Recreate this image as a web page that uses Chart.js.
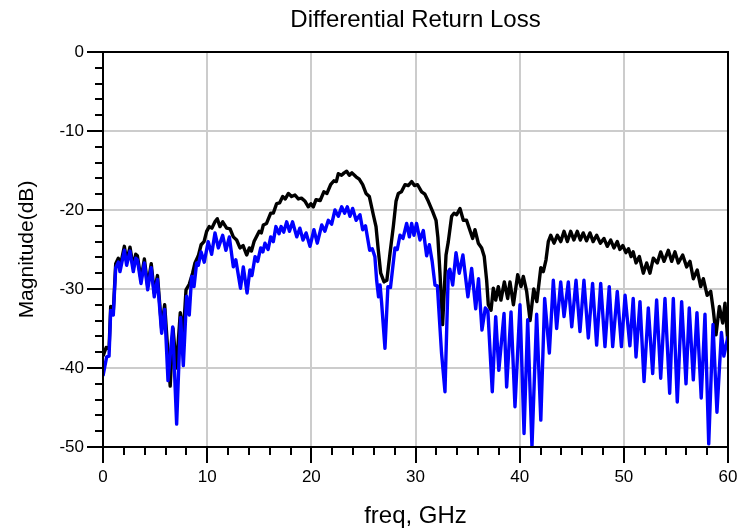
<!DOCTYPE html>
<html><head><meta charset="utf-8">
<script src="https://cdn.jsdelivr.net/npm/chart.js@4.4.1/dist/chart.umd.min.js"></script>
<style>html,body{margin:0;padding:0;background:#fff}</style>
</head><body>
<canvas id="c" width="742" height="532"></canvas>
<script>
const chartTitle = 'Differential Return Loss';
const xAxisTitle = 'freq, GHz';
const yAxisTitle = 'Magnitude(dB)';

const blackFreq = [0,0.3,0.58,0.74,0.99,1.22,1.47,1.63,2.05,2.27,2.59,2.91,3.14,3.3,3.65,3.97,4.29,4.63,4.92,5.23,5.63,5.92,6.45,6.72,7.05,7.42,7.72,7.97,8.28,8.6,8.83,9.15,9.42,9.7,9.95,10.2,10.45,10.75,10.97,11.23,11.49,11.87,12.2,12.51,12.83,13.15,13.45,13.79,14.05,14.25,14.5,15.0,15.2,15.39,15.7,16.1,16.35,16.67,16.95,17.25,17.5,17.8,18.1,18.43,18.75,19.05,19.4,19.71,19.95,20.19,20.45,20.85,21.2,21.5,21.85,22.17,22.4,22.59,22.9,23.15,23.39,23.65,23.9,24.29,24.6,24.93,25.25,25.57,25.95,26.21,26.43,26.66,26.98,27.25,27.55,27.87,28.13,28.35,28.65,28.99,29.3,29.63,29.9,30.2,30.59,30.9,31.23,31.65,31.97,32.15,32.35,32.6,32.93,33.15,33.47,33.7,33.95,34.27,34.59,34.9,35.23,35.49,35.71,36.03,36.35,36.6,36.83,36.99,37.25,37.47,37.7,37.95,38.2,38.53,38.85,39.07,39.4,39.81,40.13,40.35,40.67,41.0,41.35,41.65,42.03,42.27,42.53,42.75,42.98,43.3,43.62,43.95,44.26,44.58,44.9,45.2,45.53,45.82,46.1,46.42,46.75,47.05,47.39,47.75,48.09,48.41,48.74,49.05,49.37,49.62,49.9,50.2,50.45,50.7,50.9,51.17,51.49,51.87,52.19,52.51,52.83,53.21,53.54,53.86,54.27,54.59,54.91,55.23,55.65,56.03,56.35,56.67,57.05,57.38,57.63,58.0,58.34,58.59,58.85,59.17,59.49,59.71,60];
const blackDb = [-38.5,-37.4,-37.6,-32.2,-32.8,-26.8,-26.1,-27.3,-24.6,-26.5,-24.7,-27.3,-25.6,-25.8,-28.8,-26.2,-29.6,-26.8,-30.5,-28.3,-35.0,-32.0,-42.3,-35.0,-40.0,-33.0,-35.5,-30.1,-29.4,-28.0,-26.7,-25.8,-24.4,-24.0,-22.7,-22.1,-22.3,-21.5,-21.1,-22.1,-21.5,-22.3,-22.4,-23.4,-23.8,-24.8,-24.5,-25.7,-24.8,-25.2,-24.0,-22.7,-22.9,-21.9,-21.7,-20.4,-20.4,-19.2,-19.1,-18.3,-18.6,-17.9,-18.3,-18.1,-18.6,-18.5,-18.9,-19.6,-19.2,-19.6,-18.7,-18.8,-17.7,-17.9,-16.8,-16.3,-16.4,-15.4,-15.6,-15.3,-15.1,-15.6,-15.3,-15.8,-16.1,-16.8,-17.9,-18.3,-20.6,-22.1,-25.1,-28.0,-29.1,-28.9,-25.5,-22.1,-18.9,-17.9,-17.7,-16.8,-16.9,-16.4,-16.9,-16.8,-17.7,-18.0,-18.9,-20.2,-21.3,-23.5,-28.0,-34.5,-25.7,-24.0,-20.8,-20.4,-20.6,-19.8,-21.3,-21.3,-22.6,-23.6,-22.5,-24.2,-24.8,-25.9,-28.9,-32.0,-32.7,-29.9,-31.4,-29.7,-31.4,-29.1,-31.2,-29.1,-32.0,-28.2,-29.7,-28.4,-30.3,-34.0,-30.0,-31.6,-27.3,-27.8,-26.3,-24.0,-23.2,-24.2,-23.2,-24.0,-22.7,-24.0,-22.7,-23.8,-22.7,-23.8,-22.9,-23.9,-22.9,-24.0,-23.2,-24.2,-23.6,-24.6,-23.8,-24.8,-24.0,-25.0,-24.5,-25.4,-24.9,-25.9,-25.3,-26.7,-25.9,-28.0,-26.7,-28.0,-26.1,-26.7,-25.3,-26.5,-25.1,-26.5,-25.3,-26.7,-25.7,-27.2,-26.5,-28.7,-27.6,-29.7,-28.7,-30.8,-30.3,-32.7,-35.8,-32.2,-34.3,-31.8,-36.9];

const blueFreq = [0,0.35,0.58,0.74,0.99,1.22,1.47,1.63,2.05,2.27,2.59,2.91,3.14,3.3,3.65,3.97,4.29,4.63,4.92,5.23,5.63,5.92,6.24,6.69,7.07,7.45,7.71,8.03,8.28,8.51,8.74,8.99,9.15,9.42,9.72,10.1,10.43,10.75,11.07,11.49,11.8,12.13,12.51,12.75,13.2,13.47,13.83,14.1,14.3,14.6,14.85,15.14,15.35,15.55,15.85,16.1,16.35,16.6,16.9,17.1,17.35,17.63,17.9,18.2,18.6,18.9,19.2,19.5,19.87,20.25,20.57,21.0,21.3,21.63,21.95,22.27,22.59,22.91,23.2,23.45,23.71,23.97,24.3,24.67,24.93,25.2,25.6,25.85,26.1,26.27,26.45,26.6,26.75,27.07,27.35,27.6,28.03,28.25,28.51,28.8,29.15,29.41,29.63,29.85,30.1,30.43,30.75,31.07,31.33,31.6,31.87,32.1,32.5,32.83,33.15,33.3,33.57,33.89,34.2,34.55,35.03,35.39,35.78,36.05,36.38,36.7,36.95,37.37,37.7,38.0,38.5,38.75,39.17,39.55,40.03,40.42,40.77,41.18,41.63,42.03,42.4,42.85,43.23,43.55,43.94,44.26,44.67,45.0,45.41,45.79,46.17,46.59,47.0,47.39,47.78,48.19,48.6,48.93,49.37,49.77,50.12,50.58,50.9,51.17,51.55,51.94,52.35,52.77,53.15,53.54,53.95,54.4,54.75,55.13,55.55,55.97,56.28,56.67,57.02,57.43,57.79,58.15,58.56,58.94,59.37,59.6,60];
const blueDb = [-41.0,-38.6,-38.5,-32.7,-33.3,-27.3,-26.6,-27.8,-25.1,-27.0,-25.2,-27.8,-26.1,-26.3,-29.3,-26.7,-30.1,-27.3,-31.0,-28.8,-35.6,-32.6,-41.6,-34.8,-47.1,-33.6,-39.7,-30.9,-33.3,-28.4,-29.7,-26.7,-27.0,-25.3,-26.6,-24.0,-25.6,-22.9,-24.8,-23.2,-25.1,-23.4,-27.2,-26.3,-29.9,-27.2,-30.5,-27.6,-28.3,-25.9,-26.5,-24.8,-25.3,-24.2,-25.0,-23.4,-24.0,-22.1,-23.0,-22.1,-22.8,-21.5,-22.7,-21.5,-23.4,-22.3,-23.8,-22.9,-24.6,-22.5,-24.2,-21.9,-22.7,-21.3,-21.8,-20.0,-20.8,-19.6,-20.4,-19.6,-20.8,-19.8,-21.3,-20.6,-22.5,-22.0,-25.1,-24.9,-25.9,-28.9,-31.0,-29.5,-31.8,-37.5,-29.7,-29.8,-24.8,-25.0,-23.2,-23.6,-21.7,-23.4,-21.7,-23.2,-21.7,-23.8,-22.6,-25.8,-24.4,-26.5,-29.5,-29.6,-38.1,-43.0,-27.8,-27.5,-29.5,-25.4,-28.0,-25.7,-31.0,-27.4,-32.5,-28.7,-35.2,-32.4,-32.8,-43.0,-33.5,-40.3,-33.1,-42.4,-32.9,-44.9,-32.0,-48.3,-33.9,-50.0,-33.2,-46.6,-31.2,-38.1,-28.9,-35.0,-29.1,-33.5,-29.1,-34.8,-28.9,-35.4,-28.9,-36.2,-29.3,-37.1,-29.3,-37.3,-29.7,-37.3,-30.3,-37.3,-30.8,-37.2,-31.2,-38.6,-31.6,-41.7,-32.4,-40.7,-31.4,-41.3,-31.2,-43.2,-31.2,-44.3,-31.6,-42.0,-32.4,-41.5,-33.0,-43.8,-33.2,-49.6,-34.5,-45.6,-35.5,-38.5,-36.0];

const FONT = "'Liberation Sans', Arial, Helvetica, sans-serif";
const MINOR_X = 2, MINOR_Y = 2;

function toPoints(f, v) { return f.map((x, i) => ({ x: x, y: v[i] })); }

const frameTicks = {
  id: 'frameTicks',
  afterDraw(chart) {
    const { ctx, chartArea: { left, right, top, bottom }, scales: { x, y } } = chart;
    ctx.save();
    ctx.strokeStyle = '#000';
    ctx.lineWidth = 2;
    ctx.strokeRect(left, top, right - left, bottom - top);
    ctx.beginPath();
    for (let v = x.min; v <= x.max + 1e-9; v += MINOR_X) {
      const px = Math.round(x.getPixelForValue(v));
      const len = (Math.abs(v % 10) < 1e-9) ? 16 : 8;
      ctx.moveTo(px, bottom); ctx.lineTo(px, bottom + len);
    }
    for (let v = y.min; v <= y.max + 1e-9; v += MINOR_Y) {
      const py = Math.round(y.getPixelForValue(v));
      const len = (Math.abs(v % 10) < 1e-9) ? 16 : 8;
      ctx.moveTo(left, py); ctx.lineTo(left - len, py);
    }
    ctx.stroke();
    // title centred over the plot area
    ctx.fillStyle = '#000';
    ctx.font = '24px ' + FONT;
    ctx.textAlign = 'center';
    ctx.textBaseline = 'middle';
    ctx.fillText(chartTitle, (left + right) / 2, 20);
    ctx.restore();
  }
};

new Chart(document.getElementById('c'), {
  type: 'line',
  data: {
    datasets: [
      { label: 'black', data: toPoints(blackFreq, blackDb), borderColor: '#000000', borderWidth: 3.4,
        pointRadius: 0, tension: 0, fill: false, order: 2, borderJoinStyle: 'round' },
      { label: 'blue', data: toPoints(blueFreq, blueDb), borderColor: '#0000ff', borderWidth: 3.4,
        pointRadius: 0, tension: 0, fill: false, order: 1, borderJoinStyle: 'round' }
    ]
  },
  options: {
    responsive: false,
    animation: false,
    devicePixelRatio: 1,
    layout: { padding: { left: 0, right: 14, top: 52, bottom: 0 } },
    plugins: {
      legend: { display: false },
      tooltip: { enabled: false },
      title: { display: false }
    },
    scales: {
      x: {
        type: 'linear', min: 0, max: 60,
        afterFit(s) { s.height = 85; s.paddingLeft = 0; s.paddingRight = 0; },
        ticks: { stepSize: 10, color: '#000', font: { family: FONT, size: 17 }, padding: 20, maxRotation: 0 },
        grid: { color: '#cccccc', lineWidth: 2, drawTicks: false },
        border: { display: false },
        title: { display: true, text: xAxisTitle, color: '#000', font: { family: FONT, size: 24 }, padding: { top: 0, bottom: 1 } }
      },
      y: {
        type: 'linear', min: -50, max: 0,
        afterFit(s) { s.width = 103; s.paddingTop = 0; s.paddingBottom = 0; },
        ticks: { stepSize: 10, color: '#000', font: { family: FONT, size: 17 }, padding: 19 },
        grid: { color: '#cccccc', lineWidth: 2, drawTicks: false },
        border: { display: false },
        title: { display: true, text: yAxisTitle, color: '#000', font: { family: FONT, size: 21 }, padding: { top: 15, bottom: 0 } }
      }
    }
  },
  plugins: [frameTicks]
});
</script>
</body></html>
